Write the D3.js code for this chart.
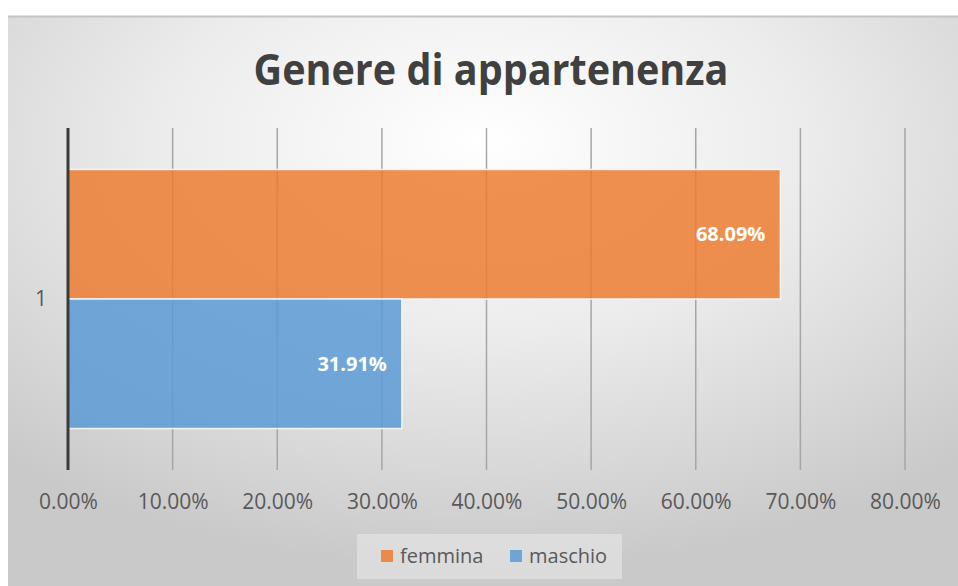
<!DOCTYPE html>
<html>
<head>
  <meta charset="utf-8">
  <style>
    body { margin: 0; background: #fff; }
    text { font-family: "Open Sans", "Noto Sans", sans-serif; }
    .tick-label { font-size: 21px; fill: #595959; }
    .grid { stroke: #a6a6a6; stroke-width: 1.5px; }
    .bar-label { font-size: 20px; font-weight: 700; fill: #fff; }
    .legend-text { font-size: 20px; fill: #595959; }
  </style>
</head>
<body>
  <svg width="958" height="586"></svg>
  <script src="https://d3js.org/d3.v7.min.js"></script>
  <script>
    const categories = ["1"];
    const series = ["femmina", "maschio"];
    const values = [68.09, 31.91];
    const tickValues = [0, 10, 20, 30, 40, 50, 60, 70, 80];
    const colors = ["#ed7d31", "#5b9bd5"];

    const svg = d3.select("svg");

    // background panel with soft radial shading
    const defs = svg.append("defs");
    const grad = defs.append("radialGradient")
      .attr("id", "bg")
      .attr("cx", "50%").attr("cy", "22%").attr("r", "75%");
    grad.append("stop").attr("offset", "0%").attr("stop-color", "#ffffff");
    grad.append("stop").attr("offset", "45%").attr("stop-color", "#ececec");
    grad.append("stop").attr("offset", "100%").attr("stop-color", "#c9c9c9");

    svg.append("rect")
      .attr("x", 8).attr("y", 16)
      .attr("width", 950).attr("height", 570)
      .attr("fill", "url(#bg)");
    svg.append("line")
      .attr("x1", 8).attr("x2", 958).attr("y1", 16.5).attr("y2", 16.5)
      .attr("stroke", "#c4c4c4").attr("stroke-width", 2);

    svg.append("text")
      .attr("x", 491).attr("y", 85)
      .attr("text-anchor", "middle")
      .attr("font-size", 43).attr("font-weight", 700)
      .attr("fill", "#404040")
      .attr("textLength", 475).attr("lengthAdjust", "spacingAndGlyphs")
      .text("Genere di appartenenza");

    const x = d3.scaleLinear().domain([0, 80]).range([68, 905]);
    const y0 = d3.scaleBand().domain(categories).range([128, 470])
      .paddingInner(0).paddingOuter(0.16);
    const y1 = d3.scaleBand().domain(series).range([0, y0.bandwidth()]);

    // vertical gridlines
    svg.append("g")
      .selectAll("line")
      .data(tickValues.slice(1))
      .join("line")
      .attr("class", "grid")
      .attr("x1", d => x(d)).attr("x2", d => x(d))
      .attr("y1", 128).attr("y2", 470);

    // bars
    const barG = svg.append("g");
    categories.forEach(c => {
      barG.selectAll("rect.bar")
        .data(series.map((s, i) => ({ s, v: values[i], color: colors[i] })))
        .join("rect")
        .attr("class", "bar")
        .attr("x", x(0))
        .attr("y", d => y0(c) + y1(d.s))
        .attr("width", d => x(d.v) - x(0))
        .attr("height", y1.bandwidth())
        .attr("fill", d => d.color)
        .attr("fill-opacity", 0.85)
        .attr("stroke", "#f4f4f4")
        .attr("stroke-width", 1.5);

      barG.selectAll("text.bar-label")
        .data(series.map((s, i) => ({ s, v: values[i] })))
        .join("text")
        .attr("class", "bar-label")
        .attr("x", d => x(d.v) - 15)
        .attr("y", d => y0(c) + y1(d.s) + y1.bandwidth() / 2)
        .attr("dy", "0.36em")
        .attr("text-anchor", "end")
        .text(d => d.v.toFixed(2) + "%");
    });

    // y axis line
    svg.append("line")
      .attr("x1", x(0)).attr("x2", x(0))
      .attr("y1", 128).attr("y2", 470)
      .attr("stroke", "#3a3a3a").attr("stroke-width", 3);

    // x axis labels
    const xAxis = d3.axisBottom(x)
      .tickValues(tickValues)
      .tickSize(0)
      .tickFormat(d => d.toFixed(2) + "%");
    const gx = svg.append("g")
      .attr("transform", "translate(0,491)")
      .call(xAxis);
    gx.select(".domain").remove();
    gx.selectAll("text")
      .attr("class", "tick-label")
      .attr("font-family", null).attr("font-size", null)
      .attr("fill", null);

    // category label
    const yAxis = d3.axisLeft(y0).tickSize(0);
    const gy = svg.append("g")
      .attr("transform", "translate(50,0)")
      .call(yAxis);
    gy.select(".domain").remove();
    gy.selectAll("text")
      .attr("class", "tick-label")
      .attr("font-family", null).attr("font-size", null)
      .attr("fill", null);

    // legend
    const legend = svg.append("g");
    legend.append("rect")
      .attr("x", 357).attr("y", 534)
      .attr("width", 265).attr("height", 45)
      .attr("fill", "#f2f2f2").attr("fill-opacity", 0.45);
    const legendX = [381, 510];
    const item = legend.selectAll("g.item")
      .data(series)
      .join("g")
      .attr("class", "item")
      .attr("transform", (d, i) => `translate(${legendX[i]},550)`);
    item.append("rect")
      .attr("width", 12).attr("height", 12)
      .attr("fill", (d, i) => colors[i])
      .attr("fill-opacity", 0.85);
    item.append("text")
      .attr("class", "legend-text")
      .attr("x", 19).attr("y", 13)
      .text(d => d);
  </script>
</body>
</html>
